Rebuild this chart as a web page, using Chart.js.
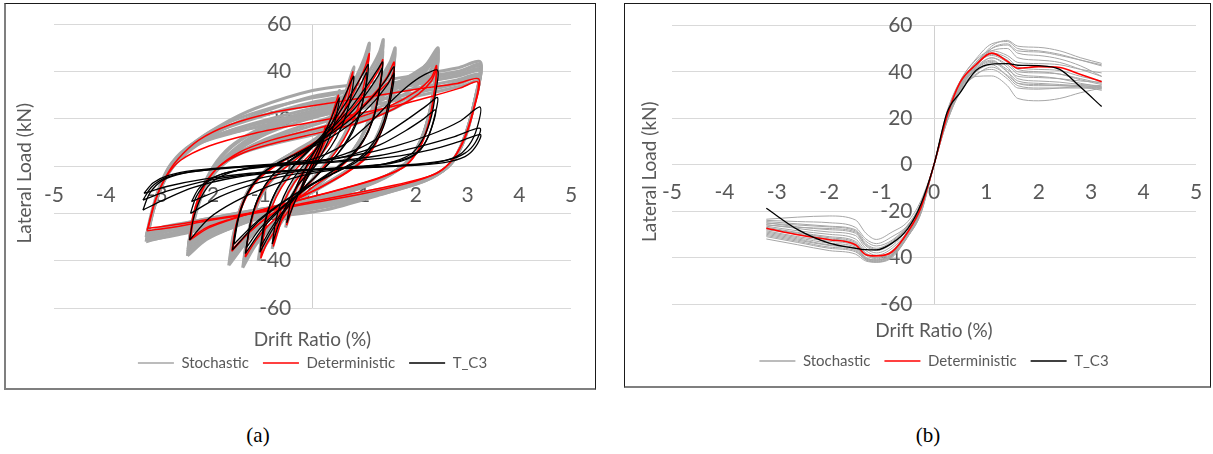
<!DOCTYPE html>
<html>
<head>
<meta charset="utf-8">
<script src="https://cdn.jsdelivr.net/npm/chart.js@4.4.1/dist/chart.umd.min.js"></script>
<style>
  body { margin: 0; background: #fff; width: 1213px; height: 454px; position: relative; overflow: hidden; }
  .panel { position: absolute; border: 1px solid #1a1a1a; }
  #pa { left: 4px; top: 3px; width: 589px; height: 384px; border-left: 2px solid #7f7f7f; border-bottom: 2px solid #7f7f7f; }
  #pb { left: 624px; top: 3px; width: 585px; height: 382px; border-bottom: 2px solid #7f7f7f; }
  canvas { display: block; }
  .cap { position: absolute; top: 423px; width: 60px; margin-left: -30px; text-align: center;
         font: 21px "Liberation Serif", serif; color: #000; }
</style>
</head>
<body>
<div class="panel" id="pa"><canvas id="chartA" width="589" height="384"></canvas></div>
<div class="panel" id="pb"><canvas id="chartB" width="585" height="382"></canvas></div>
<div class="cap" style="left:258px">(a)</div>
<div class="cap" style="left:928px">(b)</div>
<script>
// ---------- (a) hysteresis loops, [drift %, load kN] ----------
// T_C3 test loops
const tc3_025 = [[-0.26,-12],[-0.15,-5],[0,2],[0.15,9],[0.27,16],[0.18,8.5],[0.05,2],[-0.1,-4.5],[-0.26,-12]];
const tc3_05 = [[-0.5,-24],[-0.42,-15],[-0.28,-7],[-0.08,1.5],[0.15,10.5],[0.36,20],[0.52,29],[0.44,19.5],[0.3,10.5],[0.1,2],[-0.14,-6.5],[-0.34,-15],[-0.5,-24]];
const tc3_075 = [[-0.78,-33],[-0.7,-22],[-0.56,-13],[-0.36,-5],[-0.1,2.5],[0.2,11],[0.45,21.5],[0.65,31],[0.8,38],[0.72,27],[0.57,17],[0.35,8],[0.05,0],[-0.28,-8],[-0.55,-18.5],[-0.78,-33]];
const tc3_10a = [[-1.02,-36.5],[-0.94,-25],[-0.8,-15],[-0.6,-6.5],[-0.33,1],[0,8.5],[0.35,17.5],[0.65,27],[0.88,35.5],[1.0,40],[1.08,43],[1.02,32],[0.9,22],[0.72,13],[0.48,5],[0.15,-2.5],[-0.2,-10],[-0.52,-18.5],[-0.78,-27],[-1.02,-36.5]];
const tc3_10b = [[-1.0,-34],[-0.9,-22.5],[-0.76,-13],[-0.55,-5],[-0.28,2],[0.05,9],[0.4,17],[0.7,26],[0.92,34],[1.05,39.5],[0.98,28],[0.86,18.5],[0.66,10],[0.4,3],[0.08,-4],[-0.28,-11.5],[-0.6,-20],[-0.82,-27],[-1.0,-34]];
const tc3_13a = [[-1.3,-37],[-1.2,-24],[-1.04,-13],[-0.8,-4.5],[-0.5,1.5],[-0.1,7.5],[0.35,15.5],[0.75,25],[1.05,34],[1.25,40.5],[1.36,44],[1.3,33],[1.2,22],[1.02,12.5],[0.75,4.5],[0.35,-2.5],[-0.1,-9],[-0.55,-17],[-0.95,-26],[-1.3,-37]];
const tc3_13b = [[-1.28,-34.5],[-1.18,-22],[-1.02,-12],[-0.78,-4],[-0.45,2],[-0.02,8],[0.42,15.5],[0.82,24.5],[1.1,32.5],[1.28,38.5],[1.35,41.5],[1.28,30],[1.17,19.5],[0.98,10.5],[0.7,3],[0.3,-3.5],[-0.15,-10],[-0.6,-17.5],[-1.0,-26],[-1.28,-34.5]];
const tc3_16a = [[-1.55,-35.5],[-1.45,-23],[-1.28,-12.5],[-1.03,-4.5],[-0.7,1],[-0.25,6],[0.25,12],[0.75,20],[1.15,29],[1.42,36.5],[1.58,42],[1.5,30],[1.38,19],[1.18,10],[0.88,3],[0.45,-2.5],[-0.05,-8],[-0.55,-15],[-1.05,-23.5],[-1.55,-35.5]];
const tc3_16b = [[-1.52,-33],[-1.42,-21],[-1.25,-11],[-1.0,-3.5],[-0.65,1.5],[-0.2,6],[0.3,11.5],[0.8,19],[1.2,27.5],[1.45,34.5],[1.58,39],[1.5,27],[1.37,16.5],[1.16,8],[0.86,2],[0.42,-3],[-0.08,-8.5],[-0.6,-15.5],[-1.08,-23.5],[-1.52,-33]];
const tc3_24a = [[-2.38,-31.3],[-2.3,-22],[-2.15,-13],[-1.9,-6],[-1.4,-1.5],[-0.7,1],[0,3],[0.6,9],[1.1,18],[1.5,27],[1.85,34],[2.15,38.5],[2.42,40.6],[2.38,31],[2.3,21],[2.15,12],[1.9,5],[1.4,1],[0.6,-1],[-0.2,-4],[-0.9,-9],[-1.5,-15],[-2.0,-22],[-2.38,-31.3]];
const tc3_24b = [[-2.36,-20],[-2.25,-13],[-2.05,-7],[-1.7,-3],[-1.1,-0.5],[-0.4,1],[0.3,3],[0.9,7.5],[1.4,13.5],[1.85,20],[2.2,25.5],[2.42,29],[2.36,21],[2.25,13],[2.05,6],[1.7,2],[1.1,0],[0.3,-1.5],[-0.5,-4],[-1.2,-8],[-1.8,-13],[-2.36,-20]];
const tc3_24c = [[-2.34,-15],[-2.2,-9.5],[-1.95,-5],[-1.5,-2],[-0.8,0],[0,1.5],[0.7,4.5],[1.3,9],[1.8,15],[2.15,20],[2.38,23.7],[2.3,16],[2.15,9],[1.9,4],[1.4,1],[0.6,-0.5],[-0.2,-2],[-0.9,-4.5],[-1.6,-8.5],[-2.34,-15]];
const tc3_32a = [[-3.28,-18.6],[-3.15,-11.5],[-2.9,-6],[-2.5,-3],[-1.8,-1],[-1.0,0.5],[0,2],[0.8,4.5],[1.6,8.5],[2.3,13.5],[2.85,19],[3.24,25],[3.18,16],[3.03,9],[2.78,4],[2.3,1.2],[1.5,0],[0.5,-1],[-0.5,-2.2],[-1.5,-4.8],[-2.3,-9],[-2.9,-14.5],[-3.28,-18.6]];
const tc3_32b = [[-3.28,-14.4],[-3.12,-9],[-2.85,-5],[-2.4,-2.5],[-1.6,-0.8],[-0.6,0.5],[0.4,2],[1.3,4.5],[2.1,8.5],[2.75,12.5],[3.24,16],[3.15,10],[2.95,5.5],[2.6,2.5],[2.0,0.8],[1.0,-0.5],[0,-1.3],[-1.0,-3],[-2.0,-6],[-2.8,-10.5],[-3.28,-14.4]];
const tc3_32c = [[-3.26,-11.5],[-3.08,-7],[-2.8,-4],[-2.3,-1.8],[-1.5,-0.3],[-0.5,0.7],[0.5,1.8],[1.5,3.8],[2.3,7],[2.85,10.5],[3.25,13.3],[3.15,8],[2.95,4],[2.55,1.5],[1.9,0.2],[0.9,-0.7],[-0.2,-1.6],[-1.2,-3],[-2.1,-5.5],[-2.8,-8.5],[-3.26,-11.5]];

// deterministic model loops
const det_025 = [[-0.25,-13],[-0.15,-6],[0,1.5],[0.15,9],[0.25,17],[0.18,10],[0.05,3],[-0.1,-4],[-0.25,-13]];
const det_05 = [[-0.5,-25],[-0.42,-16],[-0.28,-8],[-0.08,1],[0.15,10],[0.35,20],[0.5,30],[0.42,21],[0.28,12],[0.08,3],[-0.15,-6],[-0.35,-15],[-0.5,-25]];
const det_075 = [[-0.76,-34],[-0.68,-24],[-0.55,-15],[-0.35,-7],[-0.1,0],[0.2,9],[0.45,19],[0.65,30],[0.78,40],[0.7,30],[0.55,19],[0.3,9],[0,0],[-0.3,-9],[-0.55,-20],[-0.76,-34]];
const det_10 = [[-1.0,-39],[-0.93,-28],[-0.8,-18],[-0.6,-9],[-0.35,-2],[0,6],[0.35,15],[0.65,25],[0.88,35],[1.02,42],[1.1,47.6],[1.02,37],[0.9,26],[0.72,16],[0.48,7],[0.15,-2],[-0.2,-11],[-0.5,-20],[-0.75,-28],[-0.9,-33.5],[-1.0,-39]];
const det_13 = [[-1.3,-38.5],[-1.22,-27],[-1.08,-16],[-0.88,-8],[-0.6,-2],[-0.25,4],[0.15,11],[0.55,19],[0.9,28],[1.15,36],[1.3,41.5],[1.36,45],[1.3,34],[1.2,23],[1.04,13],[0.8,5],[0.45,-2],[0,-9],[-0.45,-17],[-0.85,-25],[-1.1,-31.5],[-1.3,-38.5]];
const det_16a = [[-1.56,-36],[-1.48,-25],[-1.34,-15],[-1.12,-7],[-0.8,-1],[-0.4,4.5],[0,9.5],[0.45,16],[0.9,24],[1.25,32],[1.45,38],[1.58,44],[1.52,32],[1.42,21],[1.26,11],[1.02,3],[0.65,-3],[0.2,-8.5],[-0.3,-14],[-0.8,-20.5],[-1.2,-27.5],[-1.56,-36]];
const det_16b = [[-1.55,-35],[-1.46,-24],[-1.3,-14],[-1.06,-6],[-0.72,0],[-0.3,5.5],[0.15,11],[0.6,18],[1.0,25.5],[1.3,32],[1.5,36.5],[1.58,40.5],[1.5,29],[1.38,18],[1.2,9],[0.95,2],[0.55,-4],[0.1,-9.5],[-0.4,-15],[-0.9,-22],[-1.25,-28.5],[-1.55,-35]];
const det_24a = [[-2.38,-31.3],[-2.3,-20],[-2.12,-9],[-1.85,-1],[-1.4,6],[-0.8,11],[0,15.5],[0.8,20],[1.5,25.5],[2.0,31.5],[2.3,37.5],[2.4,42.5],[2.35,30],[2.25,18],[2.08,8],[1.8,0],[1.3,-5],[0.6,-9.5],[-0.1,-13.5],[-0.8,-17.5],[-1.5,-22],[-2.0,-26],[-2.38,-31.3]];
const det_24b = [[-2.36,-30.5],[-2.27,-19],[-2.08,-8],[-1.8,0],[-1.3,6],[-0.6,10.5],[0.2,14.5],[1.0,19],[1.6,24.5],[2.05,30.5],[2.3,36],[2.4,41],[2.34,29],[2.23,17],[2.05,7],[1.75,-0.5],[1.2,-5.5],[0.5,-10],[-0.2,-14],[-0.9,-18],[-1.6,-22.5],[-2.05,-26],[-2.36,-30.5]];
const det_32a = [[-3.2,-27.3],[-3.05,-15],[-2.85,-5],[-2.6,3],[-2.2,11],[-1.6,17.5],[-0.8,22.5],[0,25.5],[1,29],[2,32.5],[2.8,35],[3.22,36.8],[3.12,24],[2.95,12],[2.72,3],[2.4,-3],[1.8,-7.5],[0.9,-12],[0,-15.5],[-1,-19.5],[-2,-23],[-2.7,-25.8],[-3.2,-27.3]];
const det_32b = [[-3.18,-26.3],[-3.03,-14],[-2.83,-4.5],[-2.55,2.5],[-2.0,8.5],[-1.2,13.5],[-0.3,17.5],[0.6,21],[1.5,25],[2.3,29.5],[2.85,33],[3.2,35.5],[3.1,23],[2.92,11],[2.68,2],[2.35,-3.5],[1.6,-8],[0.7,-12],[-0.2,-15.8],[-1.2,-19.8],[-2.2,-23.2],[-2.8,-25.2],[-3.18,-26.3]];

// stochastic model loops
const sto_32 = [
  [[-3.22,-32],[-3.1,-20],[-2.92,-8],[-2.7,1],[-2.35,9],[-1.8,17],[-1.1,24.5],[0,32],[1,35],[2,38.5],[2.8,41.5],[3.25,44],[3.17,31],[3.03,18],[2.84,7],[2.6,-0.5],[2.2,-6],[1.3,-12],[0.3,-17],[-0.7,-20.5],[-1.7,-24.5],[-2.6,-28.5],[-3.22,-32]],
  [[-3.21,-31.5],[-3.1,-20],[-2.94,-8.5],[-2.74,0.5],[-2.4,8],[-1.9,15.5],[-1.2,22],[-0.2,28],[0.9,32],[2,36],[2.8,39.5],[3.25,43],[3.16,30],[3.02,17.5],[2.83,6.5],[2.6,-0.5],[2.2,-6],[1.25,-12.5],[0.25,-18.5],[-0.75,-21.5],[-1.75,-25],[-2.6,-29],[-3.21,-31.5]],
  [[-3.2,-31],[-3.08,-19],[-2.9,-7.5],[-2.68,1],[-2.3,8.5],[-1.7,16],[-1,22.5],[0,29.5],[1,33],[2,37],[2.8,40],[3.24,42],[3.16,29],[3.02,17],[2.82,6],[2.58,-1],[2.15,-6],[1.2,-11.5],[0.2,-16.5],[-0.8,-20],[-1.8,-24],[-2.6,-27.5],[-3.2,-31]],
  [[-3.2,-30.5],[-3.08,-18.5],[-2.9,-7],[-2.66,1.5],[-2.28,9],[-1.65,16.5],[-0.95,21.5],[0,26],[1,30.5],[2,34.5],[2.8,38.5],[3.24,41],[3.15,29],[3.0,16],[2.8,5.5],[2.56,-1],[2.12,-6],[1.15,-12],[0.15,-17.5],[-0.85,-21],[-1.85,-25],[-2.65,-28.5],[-3.2,-30.5]],
  [[-3.22,-30],[-3.1,-18.5],[-2.93,-7],[-2.72,1.5],[-2.35,9],[-1.75,15.5],[-1,21],[0,27],[1,31],[2,35],[2.8,38],[3.23,40],[3.14,28],[3.0,15],[2.8,5],[2.55,-1.5],[2.1,-6],[1.1,-11],[0.1,-16],[-0.9,-20],[-1.9,-23.5],[-2.7,-27],[-3.22,-30]],
  [[-3.21,-29.5],[-3.07,-17.5],[-2.87,-6],[-2.62,2.5],[-2.2,9.5],[-1.55,14],[-0.8,18],[0.1,22.5],[1.0,27],[2.0,31],[2.8,35.5],[3.22,38],[3.13,26.5],[2.97,13.5],[2.76,3.5],[2.5,-2],[2.0,-7],[1.0,-11.5],[0,-16],[-1.0,-20],[-2.0,-24],[-2.75,-27],[-3.21,-29.5]],
  [[-3.21,-29],[-3.07,-17.5],[-2.88,-6.5],[-2.64,2],[-2.25,9.5],[-1.6,15],[-0.9,19.5],[0,24.5],[1,29],[2,33],[2.8,36.5],[3.22,38.5],[3.13,27],[2.98,14],[2.78,4],[2.52,-2],[2.05,-6.5],[1.0,-11],[0,-15.5],[-1,-19.5],[-2,-23.5],[-2.75,-26.5],[-3.21,-29]],
  [[-3.2,-28.5],[-3.06,-17],[-2.86,-6],[-2.6,2.5],[-2.2,10],[-1.5,15.5],[-0.7,19.5],[0.2,23.5],[1.1,27.5],[2.1,31.5],[2.85,35],[3.22,37.5],[3.12,26],[2.96,13],[2.75,3],[2.48,-2.5],[2.0,-7],[0.9,-11.5],[-0.1,-15],[-1.1,-18.5],[-2.1,-22.5],[-2.8,-26],[-3.2,-28.5]],
  [[-3.19,-28],[-3.04,-16],[-2.84,-5],[-2.56,3],[-2.1,10.5],[-1.4,15],[-0.6,18.5],[0.3,22],[1.2,26],[2.2,30.5],[2.9,34],[3.21,36],[3.11,25],[2.94,12],[2.72,2],[2.44,-3],[1.9,-7.5],[0.8,-12],[-0.2,-15.5],[-1.2,-19],[-2.2,-23],[-2.85,-25.5],[-3.19,-28]]
];
const sto_24 = [
  [[-2.42,-38],[-2.34,-26],[-2.18,-14],[-1.95,-4],[-1.55,4],[-0.95,11],[-0.2,17],[0.6,22.5],[1.3,29],[1.85,36],[2.2,43],[2.43,50],[2.38,37],[2.28,24],[2.12,12],[1.88,3],[1.45,-4],[0.8,-10],[0,-15],[-0.8,-20],[-1.5,-25.5],[-2.05,-31],[-2.42,-38]],
  [[-2.41,-37],[-2.33,-25.5],[-2.17,-13.5],[-1.94,-3.5],[-1.55,5],[-1.0,12.5],[-0.3,18.5],[0.5,23.5],[1.25,29.5],[1.8,36],[2.18,42],[2.42,48.5],[2.37,36],[2.27,23.5],[2.11,11.5],[1.87,2.5],[1.42,-4.5],[0.75,-10.5],[-0.05,-15.5],[-0.85,-20.5],[-1.55,-26],[-2.1,-31],[-2.41,-37]],
  [[-2.4,-36.5],[-2.32,-25],[-2.16,-13],[-1.92,-3.5],[-1.5,4.5],[-0.9,11],[-0.1,16.5],[0.7,22],[1.4,28.5],[1.9,35],[2.22,41],[2.42,47.5],[2.37,35],[2.27,22.5],[2.1,11],[1.85,2],[1.4,-4.5],[0.7,-10],[-0.1,-14.5],[-0.9,-19.5],[-1.6,-25],[-2.1,-30.5],[-2.4,-36.5]],
  [[-2.41,-36],[-2.32,-24.5],[-2.16,-12.5],[-1.94,-2],[-1.62,7],[-1.15,14],[-0.55,19.5],[0.25,24],[1.05,29],[1.7,35.5],[2.15,41.5],[2.42,46.5],[2.37,34.5],[2.27,22],[2.1,11],[1.86,2.5],[1.42,-4.5],[0.72,-10.5],[-0.08,-15.5],[-0.88,-20],[-1.58,-25.5],[-2.1,-30.5],[-2.41,-36]],
  [[-2.4,-34],[-2.31,-23],[-2.15,-11.5],[-1.92,-2],[-1.55,6.5],[-1.05,14],[-0.4,20],[0.4,24.5],[1.2,29.5],[1.8,35.5],[2.2,41.5],[2.41,46],[2.36,34],[2.25,21.5],[2.08,10],[1.83,1.5],[1.38,-5],[0.68,-11],[-0.12,-15.5],[-0.92,-20],[-1.62,-25],[-2.12,-29.5],[-2.4,-34]],
  [[-2.4,-33],[-2.31,-22],[-2.15,-10.5],[-1.93,-0.5],[-1.6,8],[-1.1,15],[-0.5,20.5],[0.3,25],[1.1,30],[1.7,36],[2.15,42],[2.41,47],[2.36,35],[2.26,22],[2.09,10.5],[1.85,2],[1.4,-4.5],[0.7,-10.5],[-0.1,-15],[-0.9,-19.5],[-1.6,-24.5],[-2.1,-29],[-2.4,-33]],
  [[-2.41,-35],[-2.32,-24],[-2.15,-12],[-1.9,-3],[-1.48,4.5],[-0.85,10.5],[0,15.5],[0.8,20.5],[1.45,26.5],[1.95,33],[2.25,39.5],[2.42,45.5],[2.36,33.5],[2.26,21],[2.08,10],[1.82,1.5],[1.35,-5],[0.65,-10.5],[-0.15,-14.5],[-0.95,-19],[-1.65,-24.5],[-2.15,-29.5],[-2.41,-35]],
  [[-2.39,-35.5],[-2.3,-24],[-2.14,-12.5],[-1.9,-3],[-1.52,6],[-1.0,13.5],[-0.35,19.5],[0.45,24],[1.2,29],[1.75,34.5],[2.15,40],[2.4,44.5],[2.35,33],[2.25,21],[2.08,10.5],[1.84,2],[1.4,-5],[0.7,-11],[-0.1,-15.5],[-0.9,-20],[-1.6,-25],[-2.1,-30],[-2.39,-35.5]],
  [[-2.39,-33.5],[-2.3,-22.5],[-2.13,-11],[-1.88,-2],[-1.45,5],[-0.8,10],[0,14.5],[0.8,19],[1.5,25],[2.0,31.5],[2.28,37.5],[2.41,43.5],[2.35,32],[2.24,20],[2.06,9],[1.8,1],[1.3,-5.5],[0.6,-10.5],[-0.2,-14.5],[-1.0,-19],[-1.7,-24],[-2.15,-28.5],[-2.39,-33.5]],
  [[-2.38,-32],[-2.29,-21.5],[-2.12,-10.5],[-1.86,-1.5],[-1.42,5],[-0.75,9.5],[0.05,13.5],[0.85,18],[1.55,24],[2.05,30.5],[2.3,36],[2.4,41],[2.34,30],[2.23,19],[2.05,8.5],[1.78,0.5],[1.28,-5.5],[0.55,-10.5],[-0.25,-14.5],[-1.05,-19],[-1.75,-23.5],[-2.15,-27.5],[-2.38,-32]]
];
const sto_16 = [
  [[-1.62,-42],[-1.54,-30],[-1.4,-18],[-1.18,-8],[-0.85,-1],[-0.4,5.5],[0.05,11.5],[0.5,19],[0.95,28],[1.3,37],[1.5,44],[1.6,50],[1.54,37],[1.44,25],[1.27,14],[1.03,5],[0.65,-2],[0.2,-8],[-0.3,-14.5],[-0.8,-22],[-1.2,-30],[-1.62,-42]],
  [[-1.6,-40],[-1.52,-28.5],[-1.38,-17],[-1.15,-7.5],[-0.82,-0.5],[-0.38,5.5],[0.08,11.5],[0.52,18.5],[0.97,27],[1.3,35.5],[1.5,42],[1.59,48],[1.53,35.5],[1.43,24],[1.26,13],[1.02,4.5],[0.63,-2.5],[0.18,-8.5],[-0.32,-15],[-0.82,-22],[-1.22,-29.5],[-1.6,-40]],
  [[-1.58,-38.5],[-1.5,-27],[-1.36,-16],[-1.13,-7],[-0.8,0],[-0.35,6],[0.1,11.5],[0.55,18.5],[1.0,26.5],[1.32,34.5],[1.5,40.5],[1.58,46],[1.52,34],[1.42,23],[1.25,12.5],[1.0,4],[0.6,-3],[0.15,-9],[-0.35,-15],[-0.85,-22],[-1.22,-29],[-1.58,-38.5]],
  [[-1.57,-37],[-1.49,-26],[-1.35,-15.5],[-1.12,-6.5],[-0.78,0.5],[-0.33,6],[0.12,11.5],[0.58,18],[1.02,26],[1.33,33.5],[1.5,39],[1.57,44],[1.51,32.5],[1.41,22],[1.24,12],[0.98,3.5],[0.58,-3.5],[0.12,-9.5],[-0.38,-15.5],[-0.88,-22],[-1.24,-28.5],[-1.57,-37]]
];
const sto_13 = [
  [[-1.35,-43],[-1.27,-31],[-1.13,-19],[-0.92,-9.5],[-0.62,-2],[-0.25,5],[0.15,13],[0.55,22.5],[0.9,33],[1.15,42],[1.3,48.5],[1.37,53.5],[1.31,41],[1.21,29],[1.05,17.5],[0.82,7.5],[0.47,-1],[0.02,-9.5],[-0.45,-18],[-0.85,-27],[-1.12,-34],[-1.35,-43]],
  [[-1.33,-41],[-1.25,-29.5],[-1.1,-18],[-0.9,-9],[-0.6,-1.5],[-0.22,5.5],[0.18,13],[0.58,22],[0.92,31.5],[1.16,40],[1.3,46],[1.36,51],[1.3,39],[1.2,27.5],[1.04,16.5],[0.8,7],[0.45,-1.5],[0,-10],[-0.45,-18],[-0.85,-26.5],[-1.1,-32.5],[-1.33,-41]],
  [[-1.32,-39.5],[-1.24,-28.5],[-1.09,-17.5],[-0.88,-8.5],[-0.58,-1],[-0.2,6],[0.2,13],[0.6,21.5],[0.94,30.5],[1.17,38.5],[1.3,44],[1.36,48.5],[1.3,37],[1.2,26],[1.03,15.5],[0.78,6.5],[0.42,-2],[-0.02,-10],[-0.47,-18],[-0.87,-26],[-1.1,-31.5],[-1.32,-39.5]]
];
const sto_10 = [
  [[-1.05,-40],[-0.97,-29],[-0.84,-18.5],[-0.64,-9],[-0.38,-1],[-0.05,7.5],[0.3,17],[0.6,27.5],[0.85,38],[1.0,45.5],[1.1,52],[1.03,41],[0.92,30],[0.75,19],[0.52,9],[0.2,-0.5],[-0.15,-10],[-0.48,-20],[-0.75,-28.5],[-0.92,-34],[-1.05,-40]],
  [[-1.03,-38.5],[-0.95,-28],[-0.82,-18],[-0.62,-8.5],[-0.36,-0.5],[-0.03,8],[0.32,17],[0.62,27],[0.86,37],[1.0,44],[1.09,50],[1.02,39.5],[0.9,29],[0.73,18.5],[0.5,8.5],[0.18,-1],[-0.17,-10.5],[-0.5,-20],[-0.76,-28],[-0.92,-33],[-1.03,-38.5]],
  [[-1.02,-37],[-0.94,-27],[-0.8,-17],[-0.6,-8],[-0.34,0],[0,8.5],[0.34,17.5],[0.64,27],[0.87,36],[1.0,42],[1.08,47],[1.01,37],[0.89,27.5],[0.71,17.5],[0.47,8],[0.15,-1.5],[-0.2,-10.5],[-0.52,-19.5],[-0.77,-27],[-0.92,-32],[-1.02,-37]]
];
const sto_small = [
  [[-0.78,-35],[-0.7,-25],[-0.56,-15.5],[-0.36,-7],[-0.1,1],[0.2,10.5],[0.45,21],[0.65,32],[0.8,42],[0.72,32],[0.57,21],[0.33,10.5],[0.03,1],[-0.28,-8],[-0.55,-19],[-0.78,-35]],
  [[-0.52,-26],[-0.43,-17],[-0.29,-8.5],[-0.08,1],[0.15,11],[0.36,21.5],[0.52,32],[0.44,22.5],[0.3,13],[0.1,3.5],[-0.15,-6],[-0.36,-15.5],[-0.52,-26]]
];

// ---------- (b) backbone curves ----------
const driftB = [-3.2, -2.6, -2.0, -1.5, -1.3, -1.1, -0.8, -0.5, -0.25, 0, 0.25, 0.5, 0.8, 1.1, 1.4, 1.6, 2.0, 2.4, 2.8, 3.2];
const tc3B = [-18.8, -28, -33.8, -36, -36.6, -36.7, -33.8, -27.5, -17, 0, 22.5, 31, 40.5, 43.3, 43.5, 42.8, 42.6, 41, 33.3, 25];
const detB = [-27.4, -30.2, -32.3, -34.5, -38.8, -39.3, -37.5, -29, -18.5, 0, 21, 35.5, 43, 48, 44.5, 41.5, 42.2, 41.8, 38.8, 35.7];
const stoB = [
  [-23.5, -22.6, -22.1, -23.8, -29.5, -32.2, -29.0, -24.5, -15.5, 0, 21, 34, 43, 51, 53.5, 51, 50.5, 49, 46, 43.6],
  [-24.5, -25.5, -26.5, -28, -33, -35, -32.5, -26, -17, 0, 20, 33, 42, 50, 52, 49, 48.5, 47, 45, 43],
  [-25, -26.8, -28, -29.5, -35, -37, -34, -27, -17.5, 0, 22, 35, 44, 49, 50, 46, 45, 44, 41, 38],
  [-25.8, -27.5, -29, -30.5, -36, -38, -35, -27.5, -18, 0, 21, 34.5, 43, 48, 46, 42, 41, 40.5, 38, 36],
  [-26.5, -28.5, -30, -32, -37, -39, -36, -28.5, -18.5, 0, 22, 35, 43.5, 47, 44, 40, 39.5, 39, 37, 35],
  [-27, -29.2, -31, -33, -38, -40, -37, -29, -19, 0, 23, 36, 45, 49, 47, 44, 43.5, 43, 41, 39.5],
  [-28, -30, -32, -34, -39, -40.5, -38, -29.5, -19.5, 0, 21.5, 34, 42, 46, 42, 37, 36, 35.5, 34.5, 34],
  [-28.5, -31, -33, -35, -40, -41, -38.5, -30, -20, 0, 20.5, 33.5, 41.5, 45, 40, 35, 34.5, 34, 33.5, 33],
  [-29.5, -32, -34.5, -36, -40.5, -41.5, -39, -30.5, -20, 0, 19.5, 32.5, 40, 43, 38, 34, 33, 33, 33, 32.5],
  [-30.5, -33, -35.5, -37, -41, -42, -39.5, -31, -20.5, 0, 19, 31.5, 39, 41, 37, 33, 32.5, 33, 33.5, 32],
  [-32, -34.5, -37, -38.5, -41.5, -42, -40, -31, -21, 0, 18.5, 31, 38, 38.2, 34, 28.5, 27.5, 28.5, 31, 33],
  [-24, -24.5, -25, -27, -32, -34, -31, -26, -16.5, 0, 22.5, 36, 45.5, 52, 53, 50, 49, 47.5, 45, 42.5],
  [-26, -27, -27.5, -29, -34.5, -36.5, -33.5, -26.5, -17, 0, 21, 34, 42.5, 47.5, 45, 41, 40, 39, 36.5, 34.5],
  [-27.5, -29.5, -31.5, -33.5, -38.5, -40, -37.5, -29, -19, 0, 20, 33, 41, 44.5, 41, 38, 37.5, 37, 36, 35.5],
  [-29, -31.5, -33.8, -35.5, -40, -41, -38.5, -30, -19.5, 0, 20.5, 33, 41, 46, 43, 39, 38, 37, 35, 33.5],
  [-30, -32.5, -34.8, -36.5, -40.5, -41.2, -39, -30.5, -20, 0, 19.5, 32, 40, 44, 40, 36, 35, 34.5, 34, 33.5],
  [-25.2, -26, -26.8, -28.5, -34, -36, -33, -26.5, -17, 0, 22, 35, 44, 50, 51.5, 48, 47, 45.5, 42.5, 38],
  [-31, -33.5, -36, -37.5, -41, -41.8, -39.5, -31, -21, 0, 18.5, 31.5, 38.5, 42, 38.5, 35, 34, 34, 34, 33]
];

const FONT = "Lato, 'Open Sans', sans-serif";
const TXT = '#595959';
const GREY = '#a6a6a6';

const toPts = (arr) => arr.map(([x, y]) => ({ x: x, y: y }));

function loop(label, pts, color, width, inLegend) {
  return {
    label: label, data: toPts(pts), borderColor: color, backgroundColor: color,
    borderWidth: width, pointRadius: 0, pointHoverRadius: 0, pointBorderWidth: 1.5,
    showLine: true, tension: 0.3, fill: false, inLegend: inLegend
  };
}

function curve(label, ys, color, width, inLegend) {
  return {
    label: label, data: driftB.map((x, i) => ({ x: x, y: ys[i] })), borderColor: color,
    backgroundColor: color, borderWidth: width, pointRadius: 0, pointHoverRadius: 0, pointBorderWidth: 1.5,
    showLine: true, cubicInterpolationMode: 'monotone', fill: false, inLegend: inLegend
  };
}

// draws the rotated y-axis title
const yTitlePlugin = {
  id: 'yTitle',
  afterDraw(chart, args, opts) {
    const { ctx, chartArea } = chart;
    ctx.save();
    ctx.translate(opts.x, (chartArea.top + chartArea.bottom) / 2 + opts.dy);
    ctx.rotate(-Math.PI / 2);
    ctx.font = '19px ' + FONT;
    ctx.fillStyle = TXT;
    ctx.textAlign = 'center';
    ctx.textBaseline = 'middle';
    ctx.fillText(opts.text, 0, 0);
    ctx.restore();
  }
};

function options(pad, xLabelPad, titlePad, yTitleX) {
  return {
    responsive: false,
    animation: false,
    devicePixelRatio: 1,
    layout: { padding: pad },
    plugins: {
      tooltip: { enabled: false },
      yTitle: { text: 'Lateral Load (kN)', x: yTitleX, dy: 7 },
      legend: {
        position: 'bottom',
        labels: {
          usePointStyle: true, pointStyle: 'line', pointStyleWidth: 36, padding: 14,
          color: TXT, font: { family: FONT, size: 15 },
          filter: (item, data) => data.datasets[item.datasetIndex].inLegend,
          sort: (a, b) => b.datasetIndex - a.datasetIndex
        }
      }
    },
    scales: {
      x: {
        type: 'linear', min: -5, max: 5, position: { y: -6.5 },
        ticks: { stepSize: 1, color: TXT, padding: xLabelPad, font: { family: FONT, size: 21 } },
        // only the zero line is visible: it is the vertical axis line
        grid: {
          drawTicks: false, lineWidth: 1,
          color: (c) => (c.tick && c.tick.value === 0 ? '#d0d0d0' : 'rgba(0,0,0,0)')
        },
        border: { display: false }
      },
      y: {
        type: 'linear', min: -60, max: 60, position: { x: -0.41 },
        ticks: { stepSize: 20, color: TXT, padding: 0, font: { family: FONT, size: 21 } },
        grid: { color: '#d9d9d9', lineWidth: 1, drawTicks: false },
        border: { display: false }
      },
      xTitle: {
        type: 'linear', position: 'bottom', min: 0, max: 1, display: true,
        ticks: { display: false }, grid: { display: false, drawTicks: false },
        border: { display: false },
        title: { display: true, text: 'Drift Ratio (%)', color: TXT, font: { family: FONT, size: 19 }, padding: titlePad }
      }
    }
  };
}

// ----- chart (a) -----
const setsA = [];
[tc3_32a, tc3_32b, tc3_32c, tc3_24a, tc3_24b, tc3_24c, tc3_16a, tc3_16b, tc3_13a, tc3_13b, tc3_10a, tc3_10b, tc3_075, tc3_05, tc3_025]
  .forEach((l, i) => setsA.push(loop('T_C3', l, '#000000', 1.3, i === 0)));
[det_32a, det_32b, det_24a, det_24b, det_16a, det_16b, det_13, det_10, det_075, det_05, det_025]
  .forEach((l, i) => setsA.push(loop('Deterministic', l, '#ff0000', 1.5, i === 0)));
[...sto_32, ...sto_24, ...sto_16, ...sto_13, ...sto_10, ...sto_small]
  .forEach((l, i) => setsA.push(loop('Stochastic', l, GREY, 3, i === 0)));

new Chart(document.getElementById('chartA'), {
  type: 'scatter',
  data: { datasets: setsA },
  options: options({ left: 48, right: 24, top: 20.3, bottom: 7.5 }, 1.0, { top: 20.1, bottom: -9.4 }, 19),
  plugins: [yTitlePlugin]
});

// ----- chart (b) -----
const setsB = [];
setsB.push(curve('T_C3', tc3B, '#000000', 1.3, true));
setsB.push(curve('Deterministic', detB, '#ff0000', 1.6, true));
stoB.forEach((ys, i) => setsB.push(curve('Stochastic', ys, GREY, 1, i === 0)));

new Chart(document.getElementById('chartB'), {
  type: 'scatter',
  data: { datasets: setsB },
  options: options({ left: 47, right: 14, top: 21.3, bottom: 7.5 }, 0.3, { top: 15.6, bottom: -2.9 }, 24.5),
  plugins: [yTitlePlugin]
});
</script>
</body>
</html>
